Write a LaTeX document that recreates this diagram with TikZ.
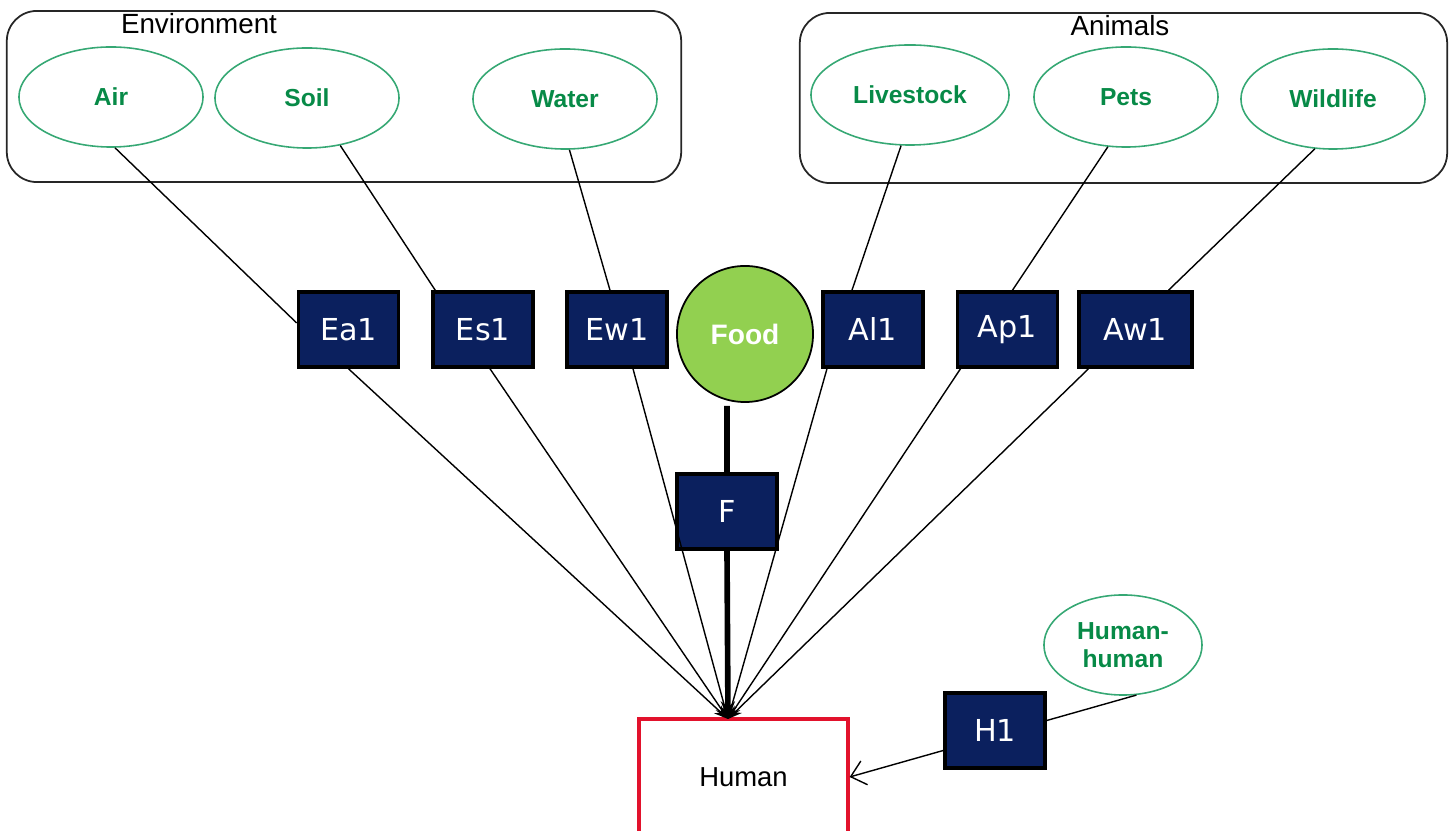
\documentclass[tikz,border=0pt]{standalone}
\usepackage{fontspec}
\setmainfont{Liberation Sans}
\newfontfamily\boxfont{DejaVu Sans}
\usetikzlibrary{arrows.meta,shapes.geometric}
\definecolor{navy}{HTML}{0B205E}
\definecolor{leaf}{HTML}{92D050}
\definecolor{grassline}{HTML}{36A874}
\definecolor{grasstext}{HTML}{078A47}
\definecolor{humanred}{HTML}{E2122C}

\begin{document}
\begin{tikzpicture}[x=0.01cm, y=-0.01cm,
        group/.style={draw=black!85, line width=0.5pt, rounded corners=0.3cm},
        title/.style={font=\fontsize{7.9}{9}\selectfont},
        source/.style={ellipse, draw=grassline, line width=0.45pt, inner sep=0pt,
            minimum width=1.84cm, minimum height=1.0cm, text=grasstext,
            font=\bfseries\fontsize{7}{8}\selectfont, align=center},
        route/.style={rectangle, draw=black, line width=1pt, fill=navy, text=white,
            minimum width=1.0cm, minimum height=0.75cm, inner sep=0pt,
            font=\boxfont\fontsize{8.6}{9}\selectfont},
        link/.style={line width=0.4pt},
        hit/.style={line width=0.4pt, -{Stealth[length=4pt, width=3pt]}}
    ]
        \useasboundingbox (0,0) rectangle (1450,831);

        \node[group, minimum width=6.74cm, minimum height=1.71cm] (env) at (344,96.5) {};
        \node[group, minimum width=6.47cm, minimum height=1.70cm] (anim) at (1123.5,98) {};
        \node[title] (envtitle) at (199,24) {Environment};
        \node[title] (animtitle) at (1120,26) {Animals};

        \node[source] (air) at (111,97) {Air};
        \node[source] (soil) at (307,98) {Soil};
        \node[source] (water) at (565,99) {Water};
        \node[source, minimum width=1.98cm] (live) at (910,95) {Livestock};
        \node[source] (pets) at (1126,97) {Pets};
        \node[source] (wild) at (1333,99) {Wildlife};
        \node[source, minimum width=1.58cm] (hh) at (1123,645) {Human-\\human};

        \node[route] (ea1) at (348.5,329.5) {Ea1};
        \node[route] (es1) at (483,329.5) {Es1};
        \node[route] (ew1) at (617,329.5) {Ew1};
        \node[route] (al1) at (873,329.5) {Al1};
        \node[route] (ap1) at (1007.5,329.5) {Ap1};
        \node[route, minimum width=1.13cm] (aw1) at (1135.5,329.5) {Aw1};
        \node[route] (f) at (727,511.5) {F};
        \node[route] (h1) at (995,730.5) {H1};

        \node[circle, draw=black, line width=0.5pt, fill=leaf, text=white, minimum size=1.36cm,
            font=\bfseries\fontsize{8}{9}\selectfont] (food) at (745,334) {Food};
        \node[rectangle, draw=humanred, line width=0.9pt, minimum width=2.09cm, minimum height=1.16cm,
            font=\fontsize{7.8}{9}\selectfont] (human) at (743.5,777) {Human};
        \coordinate (top) at (728,719);

        \draw[link] ([xshift=0.04cm]air.south) -- ([yshift=0.065cm]ea1.west);
        \draw[link] (soil.-55) -- ([xshift=0.04cm]es1.north west);
        \draw[link] (water.-85) -- ([xshift=-0.07cm]ew1.north);
        \draw[link] (live.-100) -- ([xshift=-0.21cm]al1.north);
        \draw[link] (pets.-110) -- ([xshift=0.05cm]ap1.north);
        \draw[link] (wild.-110) -- ([xshift=0.33cm]aw1.north);

        \draw[hit] (ea1.south) -- (top);
        \draw[hit] ([xshift=0.07cm]es1.south) -- (top);
        \draw[hit] ([xshift=0.16cm]ew1.south) -- (top);
        \draw[hit] ([xshift=-0.46cm]al1.south) -- (top);
        \draw[hit] ([xshift=-0.47cm]ap1.south) -- (top);
        \draw[hit] ([xshift=-0.47cm]aw1.south) -- (top);
        \draw[line width=1.6pt, shorten <=0.03cm] ([xshift=-0.18cm]food.south) -- (f.north);
        \draw[line width=1.6pt, -{Stealth[length=5pt, width=4pt]}] (f.south) -- (top);

        \draw[link] ([yshift=0.1cm]h1.east) -- (hh.-75);
        \draw[link, -{Straight Barb[length=4pt, width=7pt]}] ([yshift=-0.2cm]h1.west) -- (human.east);
    \end{tikzpicture}
\end{document}
